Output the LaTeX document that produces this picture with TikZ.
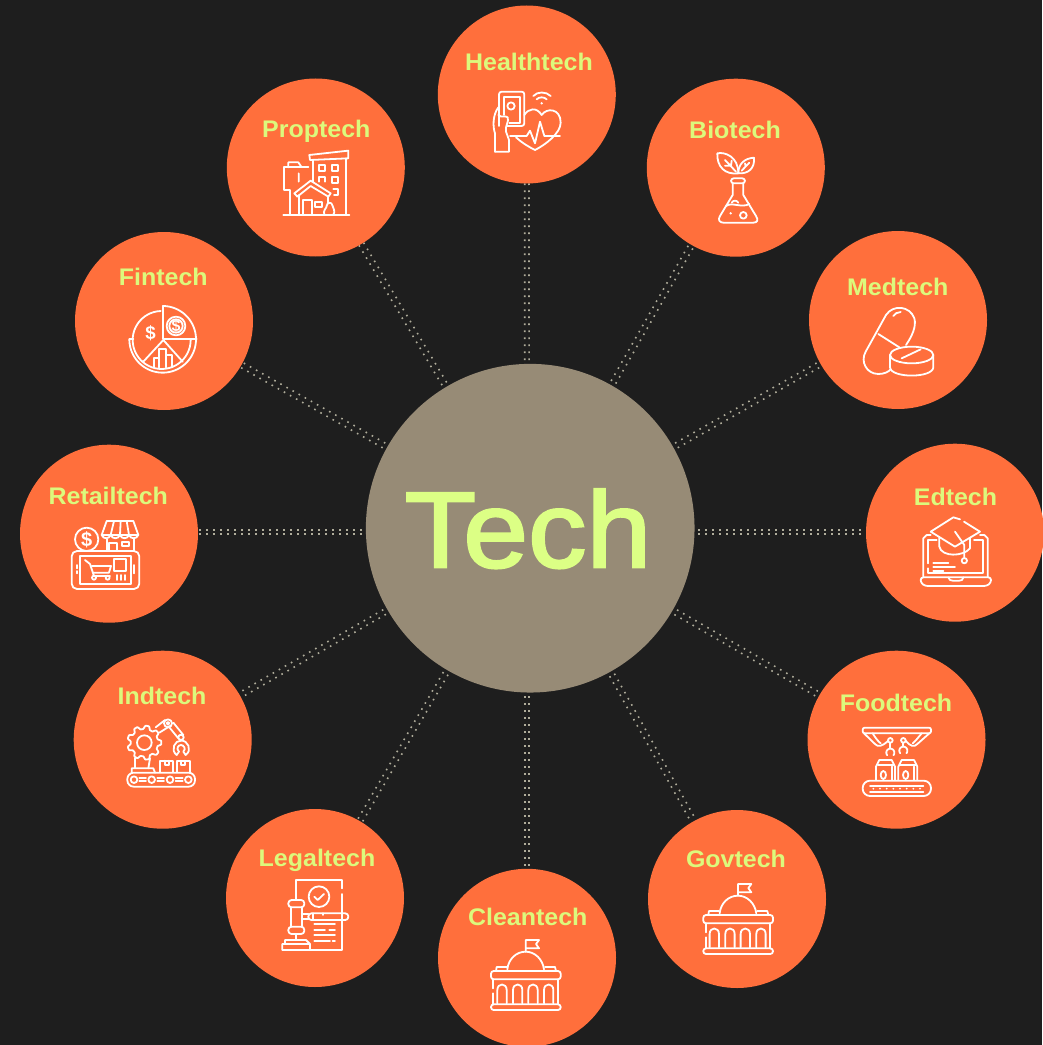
\documentclass[tikz,border=0pt]{standalone}
\usepackage{fontspec}
\usetikzlibrary{calc}
\setmainfont{Liberation Sans}
\newfontfamily\labfont[FakeStretch=1.04]{Liberation Sans Bold}
\newfontfamily\hubfont[FakeBold=2.2,FakeStretch=1.08]{Liberation Sans}
\definecolor{bgdark}{HTML}{1E1E1E}
\definecolor{orangec}{HTML}{FF6F3C}
\definecolor{limec}{HTML}{DCF97C}
\definecolor{hubc}{HTML}{978B76}
\definecolor{hubtext}{HTML}{DCFF85}
\definecolor{dotc}{HTML}{B0AD9B}
\pgfdeclarelayer{bg}
\pgfsetlayers{bg,main}
\tikzset{
  sat/.style={circle,fill=orangec,minimum size=133.5pt,inner sep=0pt},
  hub/.style={circle,fill=hubc,minimum size=246.5pt,inner sep=0pt},
  lab/.style={anchor=base,inner sep=0pt,text=limec,font=\labfont\fontsize{18}{20}\selectfont},
  dotlink/.style={draw=dotc,line width=1.2pt,dash pattern=on 1.2pt off 4.05pt},
  ic/.style={draw=white,line width=1.35pt,line join=round,line cap=round},
  zm/.style={x=0.25pt,y=-0.25pt},
  icontext/.style={inner sep=0pt,text=white,font=\bfseries\fontsize{12}{12}\selectfont}
}
% #1 half distance between the two rows of dots
\newcommand\linkdots[3][2pt]{%
  \draw[dotlink] ($(#2.center)!#1!90:(#3.center)$) -- ($(#3.center)!#1!-90:(#2.center)$);
  \draw[dotlink] ($(#2.center)!#1!-90:(#3.center)$) -- ($(#3.center)!#1!90:(#2.center)$);}
\newcommand\parc[5]{plot[domain=#4:#5,samples=40] ({#1+#3*cos(\x)},{#2+#3*sin(\x)})}
\newcommand\domeicon[2]{%
  \begin{scope}[shift={(#1,#2)},zm]
  \draw[ic] (917,455) -- (917,420) -- (957,420) -- (948,432) -- (957,445) -- (917,445);
  \draw[ic] (862,508) .. controls (865,478) and (888,455) .. (917,455) .. controls (945,455) and (968,478) .. (972,508);
  \draw[ic,rounded corners=2pt] (813,513) rectangle (1022,538);
  \draw[ic] (828,513) -- (830,501) -- (860,501);
  \draw[ic] (975,501) -- (1005,501) -- (1008,513);
  \draw[ic] (820,538) -- (820,565) (820,580) -- (820,613) (1013,538) -- (1013,613);
  \draw[ic,rounded corners=2pt] (813,613) rectangle (1022,630);
  \foreach \ax in {832,879,925,972}{
    \draw[ic] (\ax,610) -- (\ax,570) .. controls (\ax,548) and (\ax+28,548) .. (\ax+28,570) -- (\ax+28,610);
  }
  \end{scope}}
\begin{document}
\begin{tikzpicture}[x=0.75pt,y=-0.75pt]
\useasboundingbox (0,0) rectangle (1042,1045);
\begin{pgfonlayer}{bg}
\fill[bgdark] (0,0) rectangle (1042,1045);
\end{pgfonlayer}
% nodes
\node[hub] (tech) at (530.2,528.2) {};
\node[sat] (health) at (526.8,94.5) {};
\node[sat] (bio) at (735.8,167.7) {};
\node[sat] (med) at (898,320) {};
\node[sat] (ed) at (955,532.7) {};
\node[sat] (food) at (896.5,739.7) {};
\node[sat] (gov) at (737,899) {};
\node[sat] (clean) at (527,957.8) {};
\node[sat] (legal) at (315,898) {};
\node[sat] (ind) at (162.7,739.7) {};
\node[sat] (retail) at (109,533.7) {};
\node[sat] (fin) at (164,321) {};
\node[sat] (prop) at (315.8,167.5) {};
% labels
\node[anchor=base,inner sep=0pt,text=hubtext,font=\hubfont\fontsize{81}{90}\selectfont] (techL) at (528,567.3) {Tech};
\node[lab] (healthL) at (529,70.7) {Healthtech};
\node[lab] (bioL) at (735,138.3) {Biotech};
\node[lab] (propL) at (316.3,137.3) {Proptech};
\node[lab] (finL) at (163.3,285) {Fintech};
\node[lab] (medL) at (897.8,295) {Medtech};
\node[lab] (edL) at (955.5,505.3) {Edtech};
\node[lab] (retailL) at (108.3,504) {Retailtech};
\node[lab] (indL) at (162,704) {Indtech};
\node[lab] (legalL) at (317,866) {Legaltech};
\node[lab] (cleanL) at (527.8,925.7) {Cleantech};
\node[lab] (govL) at (736,867.7) {Govtech};
\node[lab] (foodL) at (896,711.7) {Foodtech};
% connectors
\coordinate (hubv) at (527,528);
\coordinate (hubh) at (530,532);
\coordinate (retailp) at (109,532);
\coordinate (edp) at (955,532);
\coordinate (cleanp) at (527,957.8);
\begin{pgfonlayer}{bg}
\linkdots[1.6pt]{hubv}{health}
\linkdots[1.6pt]{hubv}{cleanp}
\linkdots[1.6pt]{hubh}{retailp}
\linkdots[1.6pt]{hubh}{edp}
\linkdots{tech}{bio}
\linkdots{tech}{med}
\linkdots{tech}{food}
\linkdots{tech}{gov}
\linkdots{tech}{legal}
\linkdots{tech}{ind}
\linkdots{tech}{fin}
\linkdots{tech}{prop}
\end{pgfonlayer}
% Health + Bio icons
\begin{scope}[shift={(430,0)},zm]
 \draw[ic,rounded corners=2pt] (207,378) -- (207,275) -- (283,275) -- (283,378) -- (232,378);
 \draw[ic] (222,345) -- (222,290) -- (270,290) -- (270,368) -- (238,368);
 \draw[ic] (243,318) circle (11);
 \draw[ic] (195,455) -- (195,400) .. controls (188,380) and (188,345) .. (205,322);
 \draw[ic] (205,345) .. controls (215,355) and (225,345) .. (233,352) .. controls (238,365) and (225,375) .. (228,395) -- (237,420) -- (237,455) -- (195,455);
 \draw[ic] (310,288) .. controls (322,274) and (348,274) .. (362,288);
 \draw[ic] (320,298) .. controls (328,290) and (342,290) .. (350,298);
 \fill[white] (335,310) circle (4);
 \draw[ic] (283,345) .. controls (295,325) and (320,320) .. (335,345) .. controls (350,322) and (392,325) .. (392,368) .. controls (392,400) and (345,435) .. (315,450) .. controls (295,440) and (275,428) .. (258,412);
 \draw[ic] (240,408) -- (290,408) -- (300,392) -- (315,430) -- (330,365) -- (343,408) -- (390,408);
 % Biotech
 \draw[ic] (862,460) .. controls (885,455) and (925,470) .. (925,520) .. controls (885,525) and (860,500) .. (862,460);
 \draw[ic] (972,473) .. controls (945,475) and (925,490) .. (925,520) .. controls (955,522) and (975,505) .. (972,473);
 \draw[ic] (885,480) -- (918,515) (905,482) -- (903,498) (885,497) -- (900,497);
 \draw[ic] (958,488) -- (935,512) (945,490) -- (947,500);
 \draw[ic,rounded corners=2pt] (903,535) rectangle (945,550);
 \draw[ic] (908,550) -- (908,585) -- (870,648) .. controls (862,660) and (870,668) .. (880,668) -- (970,668) .. controls (982,668) and (986,660) .. (978,648) -- (940,585) -- (940,550);
 \draw[ic] (888,618) .. controls (905,605) and (935,625) .. (958,612);
 \draw[ic] (940,646) circle (10);
 \fill[white] (902,640) circle (4);
 \draw[ic] (905,608) .. controls (910,600) and (920,600) .. (925,608);
\end{scope}
% Proptech + Fintech
\begin{scope}[shift={(60,80)},zm]
 \draw[ic] (748,225) -- (865,212) -- (865,235) -- (750,240) -- cycle;
 \draw[ic] (758,240) -- (758,305) (858,235) -- (858,405);
 \draw[ic] (778,255) rectangle (796,272) (815,255) rectangle (835,272) (815,290) rectangle (835,308);
 \draw[ic] (778,305) -- (778,292) -- (796,292) -- (796,305);
 \draw[ic] (820,328) -- (835,328) -- (835,345) -- (822,345);
 \draw[ic] (703,340) -- (752,302) -- (812,340) -- (805,350) -- (752,318) -- (712,350) -- cycle;
 \draw[ic] (717,345) -- (717,405) (805,350) -- (805,368);
 \draw[ic] (730,405) -- (730,360) -- (755,360) -- (755,405);
 \draw[ic] (765,365) rectangle (785,380);
 \draw[ic] (793,405) .. controls (788,390) and (800,385) .. (800,378) .. controls (800,368) and (815,362) .. (818,378) .. controls (818,385) and (828,392) .. (820,405);
 \draw[ic] (672,330) -- (672,262) -- (745,262) (672,330) -- (690,330) -- (690,405);
 \draw[ic] (685,262) -- (685,247) -- (715,247) -- (725,262) (716,280) -- (716,305);
 \draw[ic] (670,405) -- (868,405);
 % Fintech
 \draw[ic] \parc{305}{780}{87}{-360}{-92};
 \draw[ic] (308,678) -- (308,778) -- (410,778);
 \draw[ic] \parc{308}{778}{100}{-90}{0};
 \draw[ic] (208,778) -- (220,778);
 \draw[ic] \parc{308}{778}{100}{0}{180};
 \draw[ic] (250,845) -- (310,780) -- (368,845);
 \draw[ic] (348,738) circle (28) (348,738) circle (20);
 \node[icontext] (fina) at (348,738) {\$};
 \node[icontext,font=\bfseries\fontsize{14}{14}\selectfont] (finb) at (272,760) {\$};
 \draw[ic] (282,862) -- (282,835) -- (298,835) -- (298,808) -- (318,808) -- (318,825) -- (337,825) -- (337,862) (298,835) -- (298,862) (318,825) -- (318,862);
\end{scope}
% Medtech + Edtech
\begin{scope}[shift={(800,230)},zm]
 \draw[ic] (258,255) -- (197,365) .. controls (180,395) and (200,432) .. (235,432) .. controls (252,432) and (265,426) .. (272,418);
 \draw[ic] (258,255) .. controls (280,222) and (330,228) .. (343,265) .. controls (350,290) and (335,320) .. (318,345);
 \draw[ic] (235,312) -- (298,352);
 \draw[ic] (280,258) .. controls (285,250) and (292,247) .. (302,246);
 \draw[ic] (335,375) ellipse (65 and 25);
 \draw[ic] (270,375) -- (270,412) .. controls (272,445) and (398,445) .. (400,412) -- (400,375);
 \draw[ic] (305,385) -- (362,358);
 % Edtech
 \draw[ic] (370,1040) -- (370,925) -- (380,915) -- (392,915);
 \draw[ic] (540,915) -- (553,915) -- (563,925) -- (563,1040);
 \draw[ic] (385,1000) -- (385,930) -- (410,930) (522,930) -- (548,930) -- (548,1028) -- (385,1028) -- (385,1015);
 \draw[ic,rounded corners=2pt] (362,1042) -- (573,1042) -- (573,1058) -- (560,1068) -- (375,1068) -- (362,1058) -- cycle;
 \draw[ic] (445,1042) .. controls (447,1050) and (452,1052) .. (458,1052) -- (478,1052) .. controls (485,1052) and (488,1050) .. (490,1042);
 \draw[ic] (480,868) -- (460,862) -- (392,905) -- (465,950) -- (540,905) -- (492,875);
 \draw[ic] (418,922) -- (418,950) .. controls (425,982) and (490,980) .. (510,955) -- (510,925);
 \draw[ic] (465,905) -- (493,945) -- (493,982);
 \draw[ic] (493,992) circle (8);
 \draw[ic] (400,998) -- (445,998) (400,1012) -- (465,1012) (400,1022) -- (430,1022);
\end{scope}
% Retail + Indtech
\begin{scope}[shift={(10,440)},zm]
 \draw[ic,rounded corners=4pt] (185,333) rectangle (388,447);
 \draw[ic] (210,347) rectangle (362,432);
 \draw[ic] (230,298) circle (35);
 \node[icontext,font=\bfseries\fontsize{15}{15}\selectfont] (reta) at (230,298) {\$};
 \draw[ic] (275,285) -- (290,243) -- (370,243) -- (385,285);
 \draw[ic] (275,285) .. controls (280,298) and (297,298) .. (302,285) .. controls (307,298) and (325,298) .. (330,285) .. controls (335,298) and (352,298) .. (357,285) .. controls (362,298) and (380,298) .. (385,285) -- cycle;
 \draw[ic] (312,243) -- (302,285) (332,243) -- (330,285) (350,243) -- (357,285);
 \draw[ic] (290,298) -- (290,333) (372,298) -- (372,333);
 \draw[ic] (298,333) -- (298,308) -- (322,308) -- (322,333);
 \draw[ic] (335,305) rectangle (358,318);
 \draw[ic] (225,360) -- (240,372) -- (252,408) -- (300,408);
 \draw[ic] (245,378) -- (303,378) -- (297,398) -- (250,398);
 \draw[ic] (252,413) circle (6) (293,413) circle (6);
 \draw[ic] (313,357) rectangle (347,392);
 \draw[ic] (320,405) -- (320,420) (332,405) -- (332,420) (345,405) -- (345,420);
 \draw[ic] (200,375) -- (200,385) (200,393) -- (200,400) (373,375) -- (373,400);
 % Indtech
 \draw[ic] (403,908) circle (22);
 \draw[ic] plot[domain=0:360,samples=145,smooth] ({403+(46+min(5,max(-5,9*cos(9*\x))))*cos(\x)},{908+(46+min(5,max(-5,9*cos(9*\x))))*sin(\x)});
 \draw[ic] (437,862) -- (465,840) (448,878) -- (480,858);
 \draw[ic] (474,850) circle (12) (474,850) circle (4);
 \draw[ic] (490,848) -- (520,885) (478,862) -- (505,895);
 \draw[ic] (513,892) circle (8);
 \draw[ic] (500,945) .. controls (480,930) and (495,900) .. (513,902) .. controls (533,900) and (548,930) .. (527,945) -- (520,935) .. controls (530,925) and (520,915) .. (513,915) .. controls (505,915) and (497,925) .. (507,935) -- cycle;
 \draw[ic] (450,995) -- (450,962) -- (490,962) -- (490,995) (500,995) -- (500,962) -- (540,962) -- (540,995);
 \draw[ic] (464,962) -- (464,975) -- (476,975) -- (476,962) (514,962) -- (514,975) -- (526,975) -- (526,962);
 \draw[ic,rounded corners=4.8pt] (352,998) rectangle (555,1040);
 \draw[ic] (372,1019) circle (10) (425,1019) circle (10) (480,1019) circle (10) (535,1019) circle (10);
 \draw[ic] (388,1014) -- (408,1014) (388,1024) -- (408,1024) (442,1014) -- (462,1014) (442,1024) -- (462,1024) (497,1014) -- (518,1014) (497,1024) -- (518,1024);
 \draw[ic] (365,998) -- (365,985) -- (430,985) -- (435,998);
 \draw[ic] (375,955) -- (375,985) (420,955) -- (415,985);
\end{scope}
% Legaltech
\begin{scope}[shift={(220,800)},zm]
 \draw[ic] (228,298) -- (228,240) -- (367,240) -- (367,265) (367,282) -- (367,450) -- (270,450);
 \draw[ic] (297,290) circle (31);
 \draw[ic] (283,290) -- (293,300) -- (312,282);
 \draw[ic,rounded corners=2.4pt] (205,300) rectangle (253,322);
 \draw[ic] (212,322) -- (212,380) (245,322) -- (245,380);
 \draw[ic,rounded corners=2.4pt] (205,380) rectangle (253,402);
 \draw[ic] (245,342) -- (265,342) (245,358) -- (265,358);
 \draw[ic,rounded corners=2.3pt] (265,340) -- (385,340) -- (385,360) -- (265,360) -- cycle;
 \draw[ic] (278,340) -- (278,360) (310,340) -- (310,345);
 \draw[ic] (228,402) -- (228,420);
 \draw[ic] (195,432) -- (195,420) -- (258,420) -- (270,432) -- (270,450) -- (187,450) -- (187,432) -- (270,432);
 \draw[ic] (283,372) -- (345,372) (283,390) -- (315,390) (328,390) -- (345,390) (283,405) -- (345,405) (283,423) -- (330,423) (338,423) -- (345,423);
\end{scope}
\domeicon{220}{800}
\domeicon{432.3}{744}
% Foodtech
\begin{scope}[shift={(640,650)},zm]
 \draw[ic,rounded corners=1.5pt] (668,233) rectangle (873,250);
 \draw[ic] (672,250) -- (705,282) .. controls (715,292) and (725,290) .. (745,272);
 \draw[ic] (698,250) .. controls (705,262) and (715,275) .. (722,280);
 \draw[ic] (868,250) -- (832,282) .. controls (822,292) and (812,290) .. (797,272);
 \draw[ic] (845,250) .. controls (835,262) and (825,275) .. (818,280);
 \draw[ic] (751,271) circle (7) (790,271) circle (7);
 \draw[ic] (751,278) -- (751,295) (790,278) -- (790,290);
 \draw[ic] \parc{751}{308}{12}{140}{400};
 \draw[ic] \parc{790}{302}{12}{140}{400};
 \draw[ic] (708,390) -- (708,350) -- (718,330) -- (755,330) -- (765,350) -- (765,390);
 \draw[ic] (775,390) -- (775,350) -- (785,330) -- (822,330) -- (832,350) -- (832,390);
 \draw[ic] (714,345) -- (760,345) (781,345) -- (827,345) (755,350) -- (755,390) (822,350) -- (822,390);
 \draw[ic] (730,375) ellipse (8 and 12) (797,375) ellipse (8 and 12);
 \draw[ic,rounded corners=5.5pt] (668,392) rectangle (873,438);
 \draw[ic] (690,407) -- (850,407) (690,425) -- (850,425);
 \foreach \fx in {700,720,740,760,780,800,820,840}{\fill[white] (\fx,416) circle (3);}
\end{scope}
\end{tikzpicture}
\end{document}
